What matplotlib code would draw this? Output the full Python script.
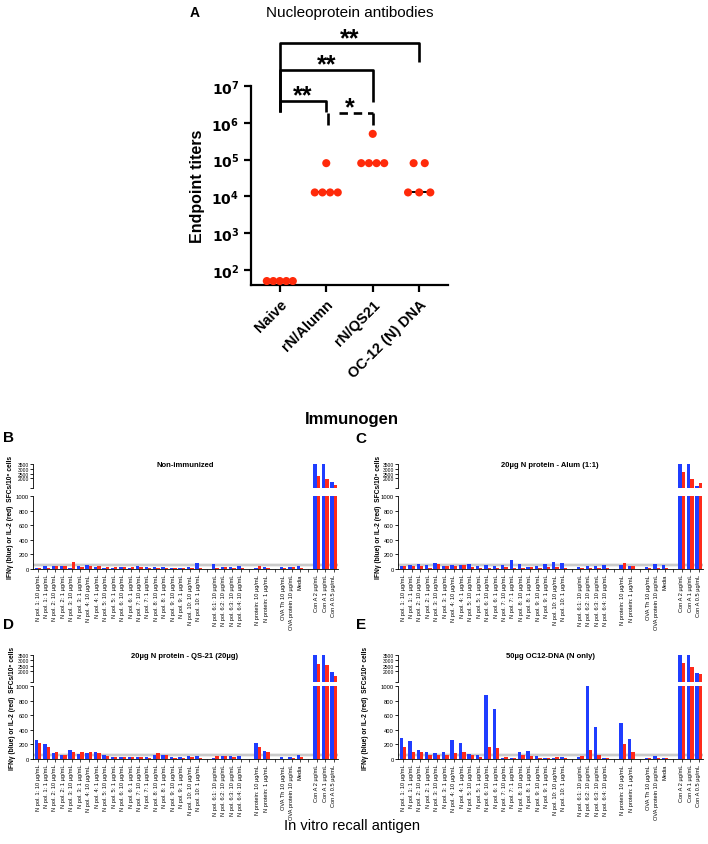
import numpy as np
import matplotlib
matplotlib.use('Agg')
import matplotlib.pyplot as plt
from matplotlib.ticker import NullLocator

plt.rcParams['font.family'] = ['Liberation Sans', 'DejaVu Sans']

# ---- Panel A: endpoint titers per immunogen ----
immunogens = ['Naive', 'rN/Alumn', 'rN/QS21', 'OC-12 (N) DNA']
titers_naive = [50, 50, 50, 50, 50]
titers_alum = [12800, 12800, 12800, 12800, 80000]
titers_qs21 = [80000, 80000, 80000, 80000, 500000]
titers_dna = [12800, 12800, 12800, 80000, 80000]
titers = [titers_naive, titers_alum, titers_qs21, titers_dna]

# ---- Panels B-E: ELISpot recall antigens ----
antigens = [
    'N pol. 1: 10 µg/mL', 'N pol. 1: 1 µg/mL', 'N pol. 2: 10 µg/mL', 'N pol. 2: 1 µg/mL',
    'N pol. 3: 10 µg/mL', 'N pol. 3: 1 µg/mL', 'N pol. 4: 10 µg/mL', 'N pol. 4: 1 µg/mL',
    'N pol. 5: 10 µg/mL', 'N pol. 5: 1 µg/mL', 'N pol. 6: 10 µg/mL', 'N pol. 6: 1 µg/mL',
    'N pol. 7: 10 µg/mL', 'N pol. 7: 1 µg/mL', 'N pol. 8: 10 µg/mL', 'N pol. 8: 1 µg/mL',
    'N pol. 9: 10 µg/mL', 'N pol. 9: 1 µg/mL', 'N pol. 10: 10 µg/mL', 'N pol. 10: 1 µg/mL',
    'N pol. 6:1: 10 µg/mL', 'N pol. 6:2: 10 µg/mL', 'N pol. 6:3: 10 µg/mL', 'N pol. 6:4: 10 µg/mL',
    'N protein: 10 µg/mL', 'N protein: 1 µg/mL',
    'OVA Th 10 µg/mL', 'OVA protein 10 µg/mL', 'Media',
    'Con A 2 µg/mL', 'Con A 1 µg/mL', 'Con A 0.5 µg/mL',
]
group_sizes = [20, 4, 2, 3, 3]

# Non-immunized
b_ifn = [15, 40, 35, 40, 20, 35, 50, 25, 20, 20, 30, 20, 45, 25, 25, 30, 15, 15, 25, 80,
         75, 25, 30, 40, 20, 30, 25, 30, 35, 3500, 3500, 1600]
b_il2 = [15, 20, 40, 35, 90, 30, 45, 35, 30, 30, 30, 25, 25, 20, 20, 20, 10, 10, 20, 20,
         10, 25, 15, 15, 35, 20, 15, 30, 15, 2200, 1950, 1350]
# 20ug N protein - Alum
c_ifn = [45, 60, 70, 55, 85, 35, 60, 60, 75, 45, 50, 40, 55, 130, 70, 30, 45, 65, 100, 85,
         30, 35, 45, 50, 60, 40, 25, 70, 60, 3500, 3500, 1200]
c_il2 = [45, 40, 45, 15, 65, 45, 45, 60, 25, 10, 20, 15, 30, 20, 15, 25, 20, 25, 25, 15,
         20, 20, 15, 10, 80, 45, 20, 20, 15, 2700, 1900, 1500]
# 20ug N protein - QS-21
d_ifn = [265, 205, 80, 55, 130, 70, 80, 90, 60, 30, 30, 25, 30, 30, 50, 55, 30, 25, 40, 40,
         15, 40, 45, 45, 220, 115, 25, 30, 50, 3500, 3500, 1900]
d_il2 = [215, 160, 90, 55, 95, 95, 100, 85, 40, 30, 30, 30, 25, 15, 80, 55, 20, 15, 25, 15,
         35, 45, 25, 0, 170, 95, 5, 20, 25, 2700, 2600, 1580]
# 50ug OC12-DNA
e_ifn = [285, 250, 120, 100, 80, 90, 255, 215, 70, 60, 880, 690, 20, 15, 90, 110, 35, 20, 20, 30,
         25, 1000, 440, 15, 490, 280, 15, 35, 15, 3500, 3500, 1830]
e_il2 = [160, 95, 90, 55, 60, 60, 80, 100, 55, 30, 170, 145, 30, 15, 60, 40, 15, 20, 25, 15,
         40, 120, 60, 10, 200, 100, 10, 15, 20, 2750, 2350, 1750]

BLUE = '#1f3dff'
RED = '#ff2a1a'
DOT = '#ff2a0a'
W, H = 708, 845

fig = plt.figure(figsize=(7.08, 8.45), dpi=100)


def px_rect(x0, x1, y0, y1):
    return [x0 / W, 1 - y1 / H, (x1 - x0) / W, (y1 - y0) / H]


# ================= Panel A =================
axa = fig.add_axes(px_rect(251, 448, 87, 286))
axa.set_yscale('log')
axa.set_ylim(39, 1e7)
axa.set_xlim(-0.62, 3.62)
spacing = [0.14, 0.165, 0.165, 0.24]
for i, vals in enumerate(titers):
    vals = np.array(vals, dtype=float)
    med = np.median(vals)
    axa.plot([i - 0.25, i + 0.25], [med, med], color='black', lw=1.4, zorder=2)
    for v in np.unique(vals):
        n = int(np.sum(vals == v))
        offs = (np.arange(n) - (n - 1) / 2) * spacing[i]
        axa.scatter(i + offs, [v] * n, s=34, color=DOT, edgecolors='none', zorder=3)

for sp in ['top', 'right']:
    axa.spines[sp].set_visible(False)
for sp in ['left', 'bottom']:
    axa.spines[sp].set_linewidth(1.6)
axa.set_yticks([1e2, 1e3, 1e4, 1e5, 1e6, 1e7])
axa.set_yticklabels([r'$\mathbf{10^{%d}}$' % k for k in range(2, 8)], fontsize=10)
axa.yaxis.set_minor_locator(NullLocator())
axa.tick_params(axis='both', width=1.6, length=5)
axa.set_xticks(range(4))
axa.set_xticklabels(immunogens, rotation=45, ha='right', va='top',
                    rotation_mode='anchor', fontsize=10.5, fontweight='bold')
axa.set_ylabel('Endpoint titers', fontsize=11.5, fontweight='bold')
axa.yaxis.set_label_coords(-0.235, 0.5)

# significance brackets
lk = dict(color='black', lw=1.9, clip_on=False, solid_capstyle='butt')
axa.plot([0, 0, 1, 1], [10**6.29, 10**6.59, 10**6.59, 10**6.29], **lk)
axa.plot([0, 0, 2, 2], [10**6.29, 10**7.43, 10**7.43, 10**6.57], **lk)
axa.plot([0, 0, 3, 3], [10**6.29, 10**8.17, 10**8.17, 10**7.65], **lk)
axa.plot([1.03, 1.03], [10**5.94, 10**6.27], **lk)
axa.plot([2, 2], [10**5.94, 10**6.27], **lk)
axa.plot([1.28, 2], [10**6.27, 10**6.27], color='black', lw=1.9, clip_on=False,
         dashes=(3.2, 2.2))
sk = dict(ha='center', va='center', fontsize=18, fontweight='bold', clip_on=False)
axa.text(0.5, 10**6.74, '**', **sk)
axa.text(1.5, 10**6.42, '*', **sk)
axa.text(1.0, 10**7.58, '**', **sk)
axa.text(1.5, 10**8.3, '**', **sk)

fig.text(350 / W, 1 - 13 / H, 'Nucleoprotein antibodies', ha='center', va='center', fontsize=11)
fig.text(195 / W, 1 - 13 / H, 'A', ha='center', va='center', fontsize=10, fontweight='bold')
fig.text(352 / W, 1 - 420 / H, 'Immunogen', ha='center', va='center',
         fontsize=12, fontweight='bold')

# ================= Panels B-E =================
xpos = []
p = 0
for n in group_sizes:
    xpos.extend(range(p, p + n))
    p += n + 1
n_slots = p - 1
xpos = np.array(xpos)
slot_labels = [''] * n_slots
for x, lab in zip(xpos, antigens):
    slot_labels[x] = lab


def bar_panel(x0, y_up, y_lo, title, ifn, il2, letter, letter_xy, ylab_x):
    ax_lo = fig.add_axes(px_rect(x0, x0 + 305, y_lo[0], y_lo[1]))
    ax_up = fig.add_axes(px_rect(x0, x0 + 305, y_up[0], y_up[1]))
    for ax in (ax_lo, ax_up):
        ax.bar(xpos - 0.2, ifn, 0.4, color=BLUE, linewidth=0)
        ax.bar(xpos + 0.2, il2, 0.4, color=RED, linewidth=0)
        ax.set_xlim(-0.6, n_slots - 0.5)
        for sp in ['top', 'right']:
            ax.spines[sp].set_visible(False)
        ax.spines['left'].set_linewidth(0.6)
        ax.tick_params(axis='y', labelsize=4.2, width=0.6, length=2, pad=1)
    ax_lo.set_ylim(0, 1000)
    ax_lo.axhspan(35, 65, facecolor='#d4d4d4', edgecolor='#a8a8a8', lw=0.3, zorder=0)
    ax_lo.set_yticks(range(0, 1001, 200))
    ax_lo.spines['bottom'].set_linewidth(0.6)
    ax_lo.set_xticks(range(n_slots))
    ax_lo.set_xticklabels(slot_labels, rotation=90, fontsize=4.1)
    ax_lo.tick_params(axis='x', width=0.5, length=2, pad=1.5)

    ax_up.set_ylim(1000, 3500)
    ax_up.spines['bottom'].set_visible(False)
    ax_up.set_yticks([1000, 2000, 2500, 3000, 3500])
    ax_up.set_yticklabels(['', '2000', '2500', '3000', '3500'], fontsize=3.6)
    ax_up.set_xticks([])

    xc = (x0 + 152) / W
    fig.text(xc, 1 - (y_up[0] + 1) / H, title, ha='center', va='center',
             fontsize=5.5, fontweight='bold')
    fig.text(letter_xy[0] / W, 1 - letter_xy[1] / H, letter, ha='center', va='center',
             fontsize=11, fontweight='bold')
    fig.text(ylab_x / W, 1 - (y_up[0] + y_lo[1]) / 2 / H,
             'IFNγ (blue) or IL-2 (red)  SFCs/10⁶ cells', rotation=90,
             ha='center', va='center', fontsize=4.8, fontweight='bold')


bar_panel(33, (465, 489), (497, 570), 'Non-immunized', b_ifn, b_il2, 'B', (8, 438), 11)
bar_panel(398, (465, 489), (497, 570), '20µg N protein - Alum (1:1)', c_ifn, c_il2,
          'C', (361, 439), 378)
bar_panel(33, (656, 683), (687, 760), '20µg N protein - QS-21 (20µg)', d_ifn, d_il2,
          'D', (8, 625), 13)
bar_panel(398, (656, 683), (687, 760), '50µg OC12-DNA (N only)', e_ifn, e_il2,
          'E', (361, 625), 366)

fig.text(352 / W, 1 - 826 / H, 'In vitro recall antigen', ha='center', va='center', fontsize=10.5)

fig.savefig('out.png', dpi=100)
